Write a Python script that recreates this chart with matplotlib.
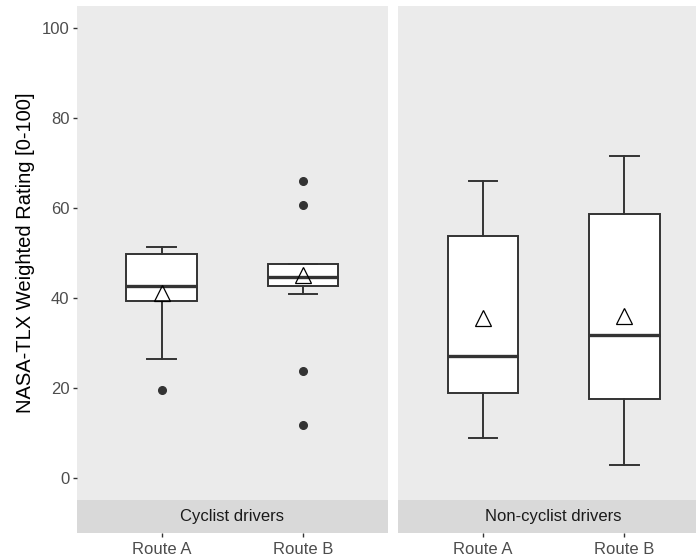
import matplotlib
matplotlib.use("Agg")
import matplotlib.pyplot as plt

plt.rcParams["font.family"] = ["Liberation Sans", "DejaVu Sans"]

# data
groups = ["Cyclist drivers", "Non-cyclist drivers"]
routes = ["Route A", "Route B"]
q1 = [[39.4, 42.7], [18.8, 17.5]]
med = [[42.7, 44.7], [27.1, 31.8]]
q3 = [[49.8, 47.5], [53.8, 58.7]]
whis_lo = [[26.5, 40.8], [8.9, 2.9]]
whis_hi = [[51.4, 47.5], [66.0, 71.7]]
means = [[41.0, 45.0], [35.5, 36.0]]
outliers = [[[19.4], [66.0, 60.7, 23.7, 11.7]], [[], []]]

panel_bg = "#EBEBEB"
strip_bg = "#D9D9D9"
dark = "#333333"

fig = plt.figure(figsize=(6.96, 5.6), dpi=100)

W, H = 696, 560
panel_left = [76.7, 398.0]
panel_w = 311.3
top_px, bottom_px, strip_bot = 6, 500, 533

for g, grp in enumerate(groups):
    ax = fig.add_axes([panel_left[g] / W, 1 - bottom_px / H,
                       panel_w / W, (bottom_px - top_px) / H])
    ax.set_facecolor(panel_bg)
    for s in ax.spines.values():
        s.set_visible(False)

    stats = []
    for r, route in enumerate(routes):
        stats.append(dict(med=med[g][r], q1=q1[g][r], q3=q3[g][r],
                          whislo=whis_lo[g][r], whishi=whis_hi[g][r],
                          fliers=outliers[g][r], mean=means[g][r], label=route))
    ax.bxp(stats, positions=[1, 2], widths=0.5, capwidths=0.2,
           showmeans=True, patch_artist=True,
           boxprops=dict(facecolor="white", edgecolor=dark, linewidth=1.4),
           medianprops=dict(color=dark, linewidth=2.4),
           whiskerprops=dict(color=dark, linewidth=1.4),
           capprops=dict(color=dark, linewidth=1.4),
           flierprops=dict(marker="o", markerfacecolor=dark, markeredgecolor=dark,
                           markersize=5.5),
           meanprops=dict(marker="^", markerfacecolor="none", markeredgecolor="black",
                          markersize=11, markeredgewidth=0.9))

    ax.set_xlim(0.4, 2.6)
    ax.set_ylim(-5, 105)
    ax.set_xticks([])
    if g == 0:
        ax.set_yticks([0, 20, 40, 60, 80, 100])
        ax.tick_params(axis="y", length=3.2, width=1.0, color=dark,
                       labelcolor="#4D4D4D", labelsize=12, pad=2)
        ax.set_ylabel("NASA-TLX Weighted Rating [0-100]", fontsize=14.5,
                      color="black", labelpad=5)
    else:
        ax.set_yticks([])

    # facet strip below the panel, with the x axis under it
    sx = fig.add_axes([panel_left[g] / W, 1 - strip_bot / H,
                       panel_w / W, (strip_bot - bottom_px) / H])
    sx.set_facecolor(strip_bg)
    for s in sx.spines.values():
        s.set_visible(False)
    sx.set_xlim(0.4, 2.6)
    sx.set_ylim(0, 1)
    sx.set_yticks([])
    sx.set_xticks([1, 2])
    sx.set_xticklabels(routes)
    sx.tick_params(axis="x", length=3.2, width=1.0, color=dark,
                   labelcolor="#4D4D4D", labelsize=12, pad=3)
    sx.text(1.5, 0.5, grp, ha="center", va="center", fontsize=12, color="#1A1A1A")

fig.savefig("out.png", dpi=100)
